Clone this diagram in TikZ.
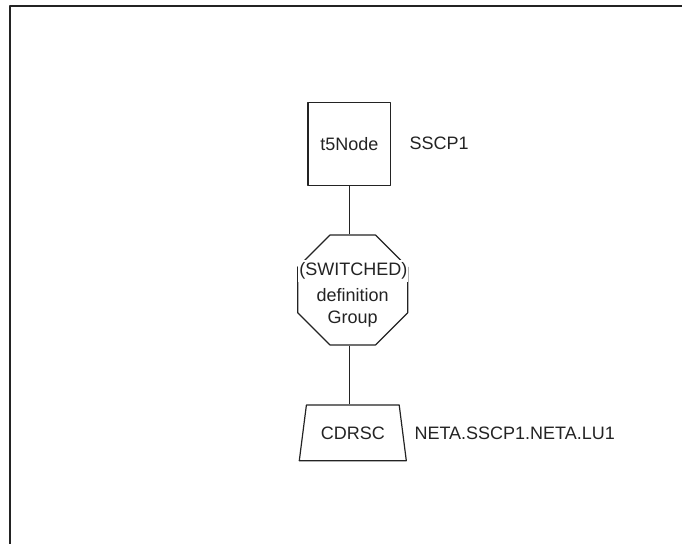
\documentclass[tikz,border=0pt]{standalone}
\usepackage{fontspec}
\setmainfont{Liberation Sans}
\usetikzlibrary{shapes.geometric}

\definecolor{inkgray}{RGB}{35,35,35}

\tikzset{
	shapeline/.style={draw=inkgray, line width=1.2pt},
	nodetext/.style={text=inkgray, font=\fontsize{18}{21.6}\selectfont},
}

\begin{document}
\begin{tikzpicture}[x=1pt, y=-1pt, line join=round, nodetext]
	
	\useasboundingbox (0,0) rectangle (682,544);
	
	% ---------- frame (top and left edge only) ----------
	\draw[inkgray, line width=2pt] (682,5.7) -- (10,5.7) -- (10,544);
	
	% ---------- t5Node box ----------
	\node[shapeline, minimum width=82.7, minimum height=83.2, inner sep=0]
	(t5node) at (349.3,143.9) {t5Node};
	\node[anchor=west] (sscpLabel) at (406,143.5) {SSCP1};
	
	% ---------- octagon: definition group ----------
	\node[shapeline, regular polygon, regular polygon sides=8,
	minimum size=119, inner sep=0] (defgroup) at (352.7,290) {};
	
	% first line breaks the edges of the octagon
	\node[fill=white, inner xsep=1pt, inner ysep=3pt]
	(switchedText) at (353.4,271) {(SWITCHED)};
	\node[align=center, inner sep=0] (groupText) at (352.7,307.9) {definition\\Group};
	
	% ---------- CDRSC trapezium ----------
	\node[shapeline, trapezium, trapezium left angle=74.4, trapezium right angle=74.4,
	trapezium stretches=true, minimum width=107.7, minimum height=55.7]
	(cdrsc) at (352.8,432.85) {CDRSC};
	\node[anchor=west] (netaLabel) at (411,433) {NETA.SSCP1.NETA.LU1};
	
	% ---------- connectors ----------
	\draw[shapeline] (t5node.south) -- (t5node.south |- defgroup.north);
	\draw[shapeline] (t5node.south |- defgroup.south) -- (t5node.south |- cdrsc.north);
	
\end{tikzpicture}
\end{document}
